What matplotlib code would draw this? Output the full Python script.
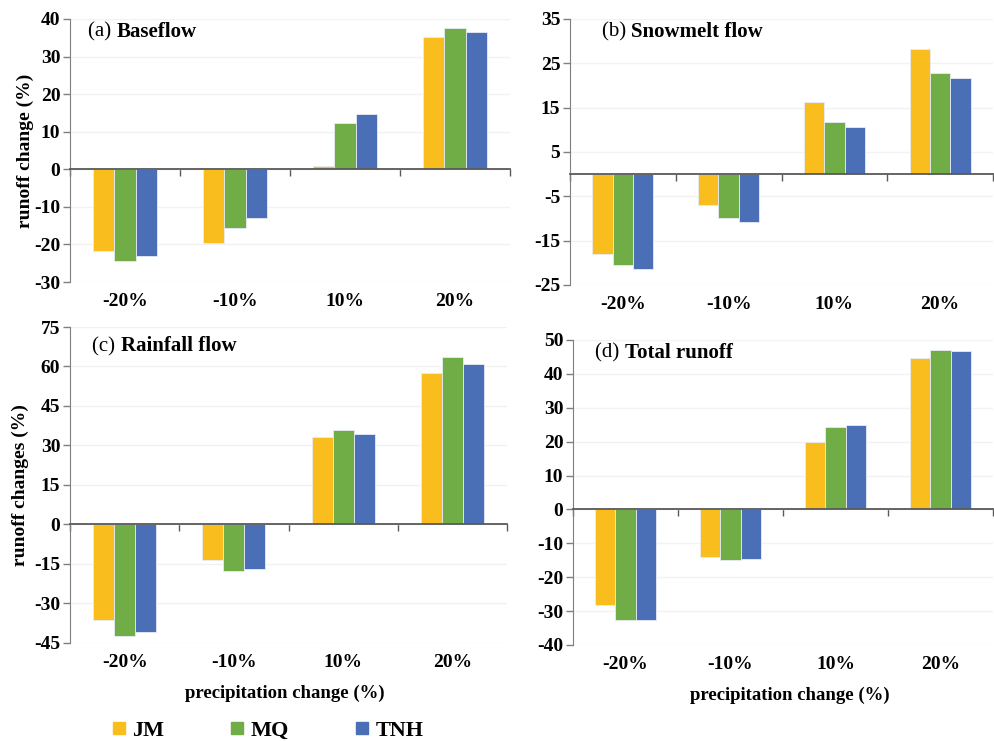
import matplotlib.pyplot as plt
from matplotlib.lines import Line2D
import numpy as np

plt.rcParams['font.family'] = ['Liberation Serif', 'DejaVu Serif']
plt.rcParams['axes.unicode_minus'] = False

categories = ['-20%', '-10%', '10%', '20%']
stations = ['JM', 'MQ', 'TNH']
colors = ['#F9BD1E', '#70AD47', '#4A6FB7']

# runoff change (%) per station, one list per precipitation scenario order
baseflow = {'JM': [-21.8, -19.6, 1.0, 35.2],
            'MQ': [-24.5, -15.5, 12.4, 37.6],
            'TNH': [-23.0, -12.9, 14.7, 36.4]}
snowmelt = {'JM': [-18.1, -7.0, 16.2, 28.2],
            'MQ': [-20.5, -9.9, 11.7, 22.9],
            'TNH': [-21.3, -10.8, 10.6, 21.6]}
rainfall = {'JM': [-36.3, -13.4, 33.4, 57.6],
            'MQ': [-42.2, -17.5, 35.8, 63.5],
            'TNH': [-40.9, -17.0, 34.4, 61.1]}
total = {'JM': [-28.2, -14.1, 19.8, 44.6],
         'MQ': [-32.5, -15.0, 24.3, 47.1],
         'TNH': [-32.6, -14.7, 24.9, 46.8]}

panels = [
    ('(a)', 'Baseflow', baseflow, np.arange(-30, 41, 10), [0.0704, 0.6194, 0.4422, 0.3550], (13, -9.5), 'runoff change (%)', -0.082),
    ('(b)', 'Snowmelt flow', snowmelt, np.arange(-25, 36, 10), [0.5729, 0.6154, 0.4251, 0.3590], (23, -9.5), None, 0),
    ('(c)', 'Rainfall flow', rainfall, np.arange(-45, 76, 15), [0.0704, 0.1323, 0.4392, 0.4264], (16, -14), 'runoff changes (%)', -0.095),
    ('(d)', 'Total runoff', total, np.arange(-40, 51, 10), [0.5759, 0.1296, 0.4221, 0.4116], (16, -9.5), None, 0),
]

fig = plt.figure(figsize=(9.95, 7.41), dpi=100)
x = np.arange(len(categories))
width = 0.192

for tag, name, data, yticks, rect, off, ylab, ylab_x in panels:
    ax = fig.add_axes(rect)
    for i, st in enumerate(stations):
        ax.bar(x + (i - 1) * width, data[st], width, color=colors[i],
               edgecolor='#E8ECF4', linewidth=0.6, zorder=3)

    ax.set_xlim(-0.5, 3.5)
    ax.set_ylim(yticks[0], yticks[-1])
    ax.set_yticks(yticks)
    ax.grid(axis='y', color='#F2F2F2', linewidth=1.0, zorder=0)

    # zero line acts as the category axis
    ax.spines['bottom'].set_position(('data', 0))
    ax.spines['bottom'].set_color('#595959')
    ax.spines['bottom'].set_linewidth(1.3)
    ax.spines['bottom'].set_zorder(4)
    ax.spines['left'].set_color('#7F7F7F')
    ax.spines['top'].set_visible(False)
    ax.spines['right'].set_visible(False)
    ax.set_xticks(np.arange(-0.5, 4.0, 1.0))
    ax.set_xticklabels([])
    ax.tick_params(axis='x', direction='out', length=5, width=1.0, color='#595959')
    ax.tick_params(axis='y', direction='out', length=5, width=1.0, color='#7F7F7F',
                   labelsize=14, pad=2)
    for lbl in ax.get_yticklabels():
        lbl.set_fontweight('bold')

    for xi, cat in zip(x, categories):
        ax.annotate(cat, xy=(xi, 0), xycoords=('data', 'axes fraction'),
                    xytext=(0, -14), textcoords='offset points',
                    ha='center', va='center', fontsize=14, fontweight='bold')

    t = ax.annotate(tag + ' ', xy=(0, 1), xycoords='axes fraction', xytext=off,
                    textcoords='offset points', ha='left', va='center', fontsize=15)
    ax.annotate(name, xy=(1, 0.5), xycoords=t, ha='left', va='center',
                fontsize=15, fontweight='bold')

    if ylab:
        ax.set_ylabel(ylab, fontsize=14, fontweight='bold')
        ax.yaxis.set_label_coords(ylab_x, 0.5)

    if tag in ('(c)', '(d)'):
        ax.annotate('precipitation change (%)', xy=(0.5, 0), xycoords='axes fraction',
                    xytext=(5 if tag == '(d)' else -3, -36), textcoords='offset points',
                    ha='center', va='center', fontsize=13.5, fontweight='bold')

handles = [Line2D([], [], marker='s', linestyle='none', markersize=9,
                  markerfacecolor=c, markeredgecolor=c) for c in colors]
fig.legend(handles, stations, loc='center', bbox_to_anchor=(0.268, 1 - 731 / 741),
           ncol=3, frameon=False, handletextpad=0.2, columnspacing=2.9,
           handlelength=0.8, prop={'size': 16, 'weight': 'bold'})

fig.savefig('out.png', dpi=100)
